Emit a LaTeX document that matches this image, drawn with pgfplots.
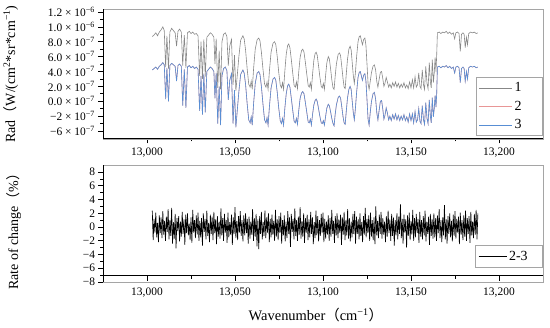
\documentclass[border=0pt]{standalone}
\usepackage{pgfplots}
\pgfplotsset{compat=1.18}
\usepackage{pgfplotstable}
\usepackage{fontspec}
\setmainfont{Liberation Serif}
\newfontfamily\cjk{Noto Sans CJK SC}
\definecolor{gline}{RGB}{135,135,135}
\definecolor{rline}{RGB}{232,150,150}
\definecolor{bline}{RGB}{88,142,212}
\definecolor{frame}{RGB}{165,165,165}
\newcommand{\sci}[2]{#1 × 10\textsuperscript{#2}}

% series 1 (gray), units of 1e-7 on the drawn scale
\pgfplotstableread{
x y
13003 8.7
13004 8.9
13005 9.2
13006 8.8
13007 9.3
13008 9.6
13009 10.0
13009.8 9.5
13010.6 4.6
13011.3 8.8
13012.2 4.4
13013 9.3
13014 9.8
13015 9.5
13016 9.2
13016.8 7.4
13017.6 9.4
13018.5 9.7
13019.5 9.3
13020.3 4.8
13021.2 8.9
13022.1 4.5
13023 9.2
13024 9.4
13025 9.1
13026 9.3
13027 9.0
13028 9.1
13029 8.8
13029.9 3.4
13030.7 8.0
13031.5 3.0
13032.3 8.3
13033.1 3.3
13034 8.6
13035 8.9
13036 9.2
13037 9.0
13038 8.6
13038.6 5.0
13039.3 8.4
13040.2 1.8
13041 6.8
13041.8 1.6
13042.6 8.0
13043.5 9.0
13044.5 9.2
13045.4 8.7
13046.2 4.8
13047 7.4
13048 8.3
13048.9 2.2
13049.7 6.2
13050.5 1.4
13051.3 3.5
13052.2 6.0
13053.2 8.2
13054.5 8.8
13055.2 8.4
13056 6.9
13056.9 4.4
13057.8 2.3
13058.6 1.9
13059.2 2.7
13059.8 1.6
13060.6 4.5
13061.5 7.0
13062.6 8.3
13063.5 8.5
13064.2 8.1
13065 6.6
13065.9 4.3
13066.8 2.3
13067.6 1.9
13068.2 2.6
13068.8 1.6
13069.6 4.2
13070.5 6.6
13071.6 7.8
13072.5 8.0
13073.2 7.6
13074 6.0
13074.8 4.0
13075.7 2.2
13076.4 1.8
13077 2.5
13077.6 1.6
13078.3 4.0
13079.1 6.3
13079.9 7.5
13080.5 7.7
13081.2 7.2
13082 5.6
13082.8 3.8
13083.6 2.1
13084.3 1.9
13084.9 2.6
13085.5 1.7
13086.2 3.9
13087 5.9
13087.8 6.8
13088.5 7.0
13089.2 6.6
13090 5.2
13090.8 3.6
13091.6 2.1
13092.2 1.9
13092.8 2.5
13093.4 1.6
13094.1 3.7
13094.8 5.5
13095.5 6.4
13096.1 6.6
13096.7 6.2
13097.4 4.9
13098.2 3.3
13099 2.0
13099.6 1.8
13100.2 2.4
13100.8 1.6
13101.5 3.5
13102.2 5.2
13103 6.0
13103.6 5.7
13104.3 4.4
13105 2.9
13105.7 1.8
13106.3 1.6
13106.9 3.3
13107.6 5.0
13108.6 6.3
13109.4 6.5
13110 6.1
13110.7 4.6
13111.4 3.0
13112 1.9
13112.6 1.7
13113.2 3.6
13113.9 5.6
13114.7 7.0
13115.4 7.4
13116 6.9
13116.6 5.2
13117.2 3.5
13117.8 2.4
13118.4 3.8
13119.1 6.0
13119.9 8.0
13120.6 8.7
13121.2 8.8
13121.8 8.2
13122.4 7.6
13123.1 8.3
13123.8 8.5
13124.4 7.5
13125 5.0
13125.6 2.4
13126.2 1.6
13126.8 2.6
13127.5 3.8
13128.4 4.7
13129.2 4.9
13129.9 4.2
13130.6 2.6
13131.2 1.9
13131.8 2.8
13132.6 3.9
13133.3 4.0
13134 3.0
13134.6 2.0
13135.2 2.4
13135.9 3.2
13136.6 2.6
13137.3 1.9
13138 2.3
13138.8 1.8
13139.6 2.5
13140.4 2.0
13141.2 2.6
13142 1.9
13142.8 2.4
13143.6 1.8
13144.4 2.3
13145.2 1.9
13146 2.5
13146.8 1.8
13147.6 2.2
13148.4 1.7
13149.2 2.6
13150 1.8
13150.8 2.9
13151.5 1.8
13152.3 3.3
13153 1.9
13153.7 2.2
13154.4 3.8
13155.1 2.0
13155.7 1.7
13156.4 4.2
13157.1 2.2
13157.7 1.6
13158.4 4.7
13159.1 2.4
13159.7 1.7
13160.4 5.2
13161 2.6
13161.5 1.8
13162.1 5.6
13162.7 2.5
13163.2 3.8
13163.7 5.9
13164.2 4.0
13164.6 6.2
13165 9.2
13166 9.3
13167 9.1
13168 9.3
13169 9.2
13170 9.4
13171 9.1
13172 9.3
13173 9.0
13174 9.2
13174.8 8.4
13175.5 9.2
13176.5 9.3
13177.3 9.1
13178 6.7
13178.7 9.0
13179.5 9.2
13180.2 9.0
13180.8 7.2
13181.5 8.6
13182.1 7.6
13182.8 9.1
13183.8 9.3
13185 9.2
13186 9.3
13187 9.1
13188 9.2
}\seriesA

% series 3 (blue); series 2 coincides with it
\pgfplotstableread{
x y
13003 4.2
13004 4.4
13005 4.6
13006 4.3
13007 4.7
13008 4.9
13009 5.2
13009.8 4.9
13010.6 0.3
13011.3 4.5
13012.2 0.0
13013 4.8
13014 5.1
13015 4.9
13016 4.7
13016.8 2.7
13017.6 4.8
13018.5 5.0
13019.5 4.7
13020.3 -0.6
13021.2 4.3
13022.1 -0.9
13023 4.6
13024 4.8
13025 4.5
13026 4.7
13027 4.4
13028 4.6
13029 4.3
13029.9 -1.3
13030.7 3.4
13031.5 -1.8
13032.3 3.7
13033.1 -1.5
13034 4.0
13035 4.3
13036 4.6
13037 4.4
13038 4.0
13038.6 0.4
13039.3 3.8
13040.2 -3.0
13041 2.0
13041.8 -3.2
13042.6 3.4
13043.5 4.4
13044.5 4.6
13045.4 4.1
13046.2 0.2
13047 2.8
13048 3.7
13048.9 -3.0
13049.7 1.5
13050.5 -3.5
13051.3 -1.2
13052.2 1.3
13053.2 3.6
13054.5 4.2
13055.2 3.8
13056 2.3
13056.9 -0.3
13057.8 -2.5
13058.6 -2.9
13059.2 -2.1
13059.8 -3.2
13060.6 -0.2
13061.5 2.4
13062.6 3.8
13063.5 4.0
13064.2 3.6
13065 2.0
13065.9 -0.4
13066.8 -2.5
13067.6 -2.9
13068.2 -2.2
13068.8 -3.2
13069.6 -0.6
13070.5 1.8
13071.6 3.0
13072.5 3.2
13073.2 2.8
13074 1.2
13074.8 -0.8
13075.7 -2.6
13076.4 -3.0
13077 -2.3
13077.6 -3.2
13078.3 -1.0
13079.1 1.0
13079.9 2.1
13080.5 2.3
13081.2 1.9
13082 0.4
13082.8 -1.2
13083.6 -2.7
13084.3 -2.9
13084.9 -2.3
13085.5 -3.1
13086.2 -1.3
13087 0.4
13087.8 1.1
13088.5 1.3
13089.2 1.0
13090 -0.2
13090.8 -1.5
13091.6 -2.8
13092.2 -2.9
13092.8 -2.4
13093.4 -3.2
13094.1 -1.7
13094.8 -0.5
13095.5 0.1
13096.1 0.3
13096.7 0.0
13097.4 -0.9
13098.2 -2.0
13099 -2.9
13099.6 -3.0
13100.2 -2.6
13100.8 -3.2
13101.5 -2.0
13102.2 -0.9
13103 -0.4
13103.6 -0.6
13104.3 -1.4
13105 -2.3
13105.7 -3.0
13106.3 -3.3
13106.9 -1.8
13107.6 -0.5
13108.6 0.5
13109.4 0.7
13110 0.4
13110.7 -0.8
13111.4 -2.1
13112 -2.9
13112.6 -3.1
13113.2 -1.4
13113.9 0.4
13114.7 1.6
13115.4 2.0
13116 1.6
13116.6 0.0
13117.2 -1.5
13117.8 -2.5
13118.4 -1.0
13119.1 1.2
13119.9 3.2
13120.6 3.9
13121.2 4.0
13121.8 3.4
13122.4 2.8
13123.1 3.5
13123.8 3.7
13124.4 2.7
13125 0.2
13125.6 -2.4
13126.2 -3.2
13126.8 -1.6
13127.5 -0.1
13128.4 1.0
13129.2 1.2
13129.9 0.3
13130.6 -1.6
13131.2 -2.5
13131.8 -1.4
13132.6 0.0
13133.3 0.1
13134 -1.1
13134.6 -2.4
13135.2 -1.9
13135.9 -0.9
13136.6 -1.6
13137.3 -2.5
13138 -2.0
13138.8 -2.6
13139.6 -1.8
13140.4 -2.4
13141.2 -1.7
13142 -2.5
13142.8 -1.9
13143.6 -2.6
13144.4 -2.0
13145.2 -2.5
13146 -1.8
13146.8 -2.6
13147.6 -2.1
13148.4 -2.8
13149.2 -1.7
13150 -2.6
13150.8 -1.7
13151.5 -2.9
13152.3 -1.4
13153 -2.8
13153.7 -2.5
13154.4 -1.0
13155.1 -2.7
13155.7 -3.0
13156.4 -0.6
13157.1 -2.5
13157.7 -3.1
13158.4 -0.2
13159.1 -2.3
13159.7 -3.0
13160.4 0.2
13161 -2.0
13161.5 -2.9
13162.1 0.5
13162.7 -2.1
13163.2 -1.0
13163.7 0.8
13164.2 -0.8
13164.6 1.0
13165 4.6
13166 4.7
13167 4.5
13168 4.7
13169 4.6
13170 4.8
13171 4.5
13172 4.7
13173 4.4
13174 4.6
13174.8 3.8
13175.5 4.6
13176.5 4.7
13177.3 4.5
13178 2.5
13178.7 4.4
13179.5 4.6
13180.2 4.4
13180.8 2.7
13181.5 4.0
13182.1 3.0
13182.8 4.5
13183.8 4.7
13185 4.6
13186 4.7
13187 4.5
13188 4.6
}\seriesC

\begin{document}
\begin{tikzpicture}
\useasboundingbox (0bp,0bp) rectangle (550bp,328bp);
% ---------------- top panel ----------------
\begin{axis}[
  at={(103bp,189bp)}, anchor=south west,
  width=440bp, height=130bp, scale only axis,
  xmin=12975, xmax=13225, ymin=-5.07, ymax=12.4,
  scaled x ticks=false,
  axis line style={draw=frame, line width=0.6pt},
  xtick={13000,13050,13100,13150,13200},
  xticklabels={{13,000},{13,050},{13,100},{13,150},{13,200}},
  minor x tick num=1,
  ytick={-4,-2,0,2,4,6,8,10,12},
  yticklabels={{\sci{−6}{−7}},{\sci{−2}{−7}},{\sci{0.0}{−7}},{\sci{2.0}{−7}},{\sci{4.0}{−7}},{\sci{6.0}{−7}},{\sci{8.0}{−7}},{\sci{1.0}{−6}},{\sci{1.2}{−6}}},
  minor y tick num=1,
  xtick pos=left, ytick pos=left,
  tick align=outside,
  major tick length=4.5bp, minor tick length=2.5bp,
  tick style={black, line width=0.7pt},
  ticklabel style={font=\fontsize{11.5}{12}\selectfont},
  xticklabel style={yshift=-1bp},
  ylabel={Rad{\cjk （}W/(cm\textsuperscript{2}*sr*cm\textsuperscript{−1})},
  ylabel style={at={(axis description cs:-0.21,0.5)}, anchor=center, font=\fontsize{14}{14}\selectfont},
  legend style={at={(rel axis cs:1,0.023)}, anchor=south east, draw=frame, line width=0.6pt,
    font=\fontsize{14}{14}\selectfont, row sep=1.5bp, inner xsep=3bp, inner ysep=2bp,
    nodes={inner sep=2bp, text height=10bp, text depth=3bp}},
  legend cell align=left,
  legend image code/.code={\draw[#1, line width=0.8pt] (0bp,0bp) -- (33bp,0bp);},
]
\addplot[gline, line width=0.6pt] table[x=x,y=y]{\seriesA};
\addlegendentry{1\hspace*{16bp}}
\addplot[rline, line width=0.6pt] table[x=x,y=y]{\seriesC};
\addlegendentry{2\hspace*{16bp}}
\addplot[bline, line width=0.6pt] table[x=x,y=y]{\seriesC};
\addlegendentry{3\hspace*{16bp}}
\draw[black, line width=1.1pt] (rel axis cs:0,0) -- (rel axis cs:1,0);
\draw[black, line width=1.1pt] (rel axis cs:0,0) -- (rel axis cs:0,1);
\end{axis}
% ---------------- bottom panel ----------------
\begin{axis}[
  at={(103bp,46bp)}, anchor=south west,
  width=440bp, height=117bp, scale only axis,
  xmin=12975, xmax=13225, ymin=-8, ymax=9.03,
  scaled x ticks=false,
  axis line style={draw=frame, line width=0.6pt},
  xtick={13000,13050,13100,13150,13200},
  xticklabels={{13,000},{13,050},{13,100},{13,150},{13,200}},
  minor x tick num=1,
  ytick={-8,-6,-4,-2,0,2,4,6,8},
  yticklabels={−8,−6,−4,−2,0,2,4,6,8},
  minor y tick num=1,
  xtick pos=left, ytick pos=left,
  tick align=outside,
  major tick length=4.5bp, minor tick length=2.5bp,
  tick style={black, line width=0.7pt},
  x tick style={yshift=6bp},
  ticklabel style={font=\fontsize{11.5}{12}\selectfont},
  xticklabel style={yshift=2bp},
  ylabel={Rate of change{\cjk （}\%{\cjk ）}},
  ylabel style={at={(axis description cs:-0.203,0.46)}, anchor=center, font=\fontsize{14}{14}\selectfont},
  xlabel={Wavenumber{\cjk （}cm\textsuperscript{−1}{\cjk ）}},
  xlabel style={at={(axis description cs:0.484,-0.282)}, anchor=center, font=\fontsize{14.5}{15}\selectfont},
  legend style={at={(rel axis cs:1,0.12)}, anchor=south east, draw=frame, line width=0.6pt,
    font=\fontsize{14}{14}\selectfont, inner xsep=3bp, inner ysep=2.5bp,
    nodes={inner sep=2bp, text height=10bp, text depth=3bp}},
  legend image code/.code={\draw[#1, line width=0.8pt] (0bp,0bp) -- (28bp,0bp);},
]
\addplot[black, line width=0.65pt] coordinates {
(13003,2.4)(13003.5,-1.9)(13004,1.2)(13004.5,-0.8)(13005,2.1)(13005.5,-1.5)(13006,0.6)(13006.5,-2.2)(13007,1.7)(13007.5,-0.9)
(13008,1.4)(13008.5,-1.6)(13009,2.3)(13009.5,-1.1)(13010,0.9)(13010.5,-2.0)(13011,1.5)(13011.5,-0.7)(13012,2.6)(13012.5,-1.8)
(13013,1.0)(13013.5,-1.3)(13014,2.8)(13014.5,-2.4)(13015,0.7)(13015.5,-1.7)(13016,1.9)(13016.5,-3.1)(13017,1.3)(13017.5,-0.6)
(13018,1.6)(13018.5,-2.1)(13019,0.8)(13019.5,-1.4)(13020,2.2)(13020.5,-1.0)(13021,1.1)(13021.5,-2.6)(13022,1.8)(13022.5,-0.9)
(13023,2.0)(13023.5,-1.2)(13024,0.5)(13024.5,-1.9)(13025,1.4)(13025.5,-2.3)(13026,2.5)(13026.5,-0.8)(13027,1.0)(13027.5,-1.6)
(13028,1.7)(13028.5,-1.1)(13029,2.1)(13029.5,-2.0)(13030,0.9)(13030.5,-1.5)(13031,1.3)(13031.5,-2.7)(13032,2.0)(13032.5,-0.7)
(13033,1.2)(13033.5,-1.8)(13034,2.4)(13034.5,-1.3)(13035,0.6)(13035.5,-2.2)(13036,1.8)(13036.5,-1.0)(13037,1.5)(13037.5,-1.9)
(13038,2.2)(13038.5,-0.9)(13039,1.1)(13039.5,-2.5)(13040,1.6)(13040.5,-1.4)(13041,0.8)(13041.5,-1.7)(13042,2.7)(13042.5,-1.2)
(13043,1.3)(13043.5,-2.0)(13044,1.9)(13044.5,-0.8)(13045,1.0)(13045.5,-2.3)(13046,2.1)(13046.5,-1.5)(13047,0.7)(13047.5,-1.1)
(13048,1.8)(13048.5,-2.6)(13049,1.4)(13049.5,-1.0)(13050,2.9)(13050.5,-1.6)(13051,0.9)(13051.5,-1.9)(13052,1.6)(13052.5,-0.8)
(13053,2.3)(13053.5,-1.3)(13054,1.0)(13054.5,-2.1)(13055,1.7)(13055.5,-1.2)(13056,2.0)(13056.5,-0.9)(13057,1.2)(13057.5,-2.4)
(13058,1.5)(13058.5,-1.7)(13059,0.8)(13059.5,-1.1)(13060,2.6)(13060.5,-2.0)(13061,1.3)(13061.5,-1.4)(13062,1.9)(13062.5,-2.8)
(13063,1.1)(13063.5,-3.2)(13064,1.6)(13064.5,-1.0)(13065,2.2)(13065.5,-1.8)(13066,0.7)(13066.5,-1.3)(13067,2.4)(13067.5,-1.6)
(13068,1.4)(13068.5,-0.8)(13069,2.0)(13069.5,-2.2)(13070,1.2)(13070.5,-1.5)(13071,1.8)(13071.5,-1.1)(13072,0.9)(13072.5,-2.0)
(13073,2.5)(13073.5,-1.4)(13074,1.1)(13074.5,-1.9)(13075,1.6)(13075.5,-0.9)(13076,2.1)(13076.5,-2.4)(13077,1.0)(13077.5,-1.2)
(13078,1.7)(13078.5,-2.1)(13079,0.8)(13079.5,-1.6)(13080,2.3)(13080.5,-1.0)(13081,1.4)(13081.5,-2.9)(13082,1.9)(13082.5,-0.7)
(13083,1.2)(13083.5,-1.8)(13084,2.7)(13084.5,-1.3)(13085,1.0)(13085.5,-2.0)(13086,1.5)(13086.5,-1.1)(13087,2.9)(13087.5,-1.7)
(13088,0.9)(13088.5,-1.4)(13089,2.0)(13089.5,-2.3)(13090,1.3)(13090.5,-0.8)(13091,1.8)(13091.5,-1.9)(13092,1.1)(13092.5,-1.5)
(13093,2.2)(13093.5,-1.0)(13094,1.4)(13094.5,-2.5)(13095,0.7)(13095.5,-1.6)(13096,2.4)(13096.5,-1.2)(13097,1.6)(13097.5,-2.1)
(13098,1.0)(13098.5,-1.3)(13099,1.9)(13099.5,-0.9)(13100,2.1)(13100.5,-2.2)(13101,1.2)(13101.5,-1.7)(13102,0.8)(13102.5,-1.1)
(13103,1.7)(13103.5,-2.0)(13104,1.3)(13104.5,-1.4)(13105,2.5)(13105.5,-1.0)(13106,0.9)(13106.5,-2.3)(13107,1.6)(13107.5,-1.2)
(13108,2.0)(13108.5,-1.6)(13109,1.1)(13109.5,-0.8)(13110,1.8)(13110.5,-2.6)(13111,1.4)(13111.5,-1.1)(13112,2.2)(13112.5,-1.9)
(13113,1.0)(13113.5,-1.2)(13114,2.6)(13114.5,-1.7)(13115,1.3)(13115.5,-2.1)(13116,0.8)(13116.5,-1.5)(13117,1.9)(13117.5,-1.0)
(13118,2.3)(13118.5,-2.4)(13119,1.5)(13119.5,-1.0)(13120,1.1)(13120.5,-1.8)(13121,2.0)(13121.5,-1.3)(13122,0.7)(13122.5,-2.2)
(13123,1.6)(13123.5,-1.1)(13124,2.8)(13124.5,-1.5)(13125,1.2)(13125.5,-0.9)(13126,1.7)(13126.5,-2.0)(13127,2.1)(13127.5,-1.4)
(13128,1.0)(13128.5,-1.9)(13129,1.4)(13129.5,-2.5)(13130,3.0)(13130.5,-1.2)(13131,0.9)(13131.5,-1.6)(13132,1.8)(13132.5,-1.0)
(13133,2.2)(13133.5,-1.7)(13134,1.3)(13134.5,-1.1)(13135,0.8)(13135.5,-2.2)(13136,1.6)(13136.5,-1.4)(13137,2.4)(13137.5,-0.9)
(13138,1.1)(13138.5,-2.0)(13139,1.9)(13139.5,-1.3)(13140,1.4)(13140.5,-2.7)(13141,1.0)(13141.5,-1.2)(13142,2.0)(13142.5,-1.8)
(13143,1.5)(13143.5,-1.0)(13144,3.3)(13144.5,-1.6)(13145,1.2)(13145.5,-2.4)(13146,1.8)(13146.5,-0.8)(13147,1.1)(13147.5,-3.0)
(13148,1.7)(13148.5,-1.3)(13149,2.1)(13149.5,-1.9)(13150,0.9)(13150.5,-1.1)(13151,2.5)(13151.5,-2.0)(13152,1.3)(13152.5,-1.5)
(13153,1.9)(13153.5,-0.9)(13154,1.2)(13154.5,-2.3)(13155,2.2)(13155.5,-1.4)(13156,1.0)(13156.5,-1.8)(13157,1.6)(13157.5,-1.2)
(13158,2.4)(13158.5,-2.1)(13159,0.8)(13159.5,-1.0)(13160,1.5)(13160.5,-2.6)(13161,1.9)(13161.5,-1.3)(13162,1.2)(13162.5,-1.7)
(13163,2.0)(13163.5,-1.5)(13164,1.3)(13164.5,-2.0)(13165,1.7)(13165.5,-0.9)(13166,2.6)(13166.5,-1.6)(13167,1.0)(13167.5,-2.2)
(13168,1.4)(13168.5,-1.2)(13169,3.2)(13169.5,-1.8)(13170,1.1)(13170.5,-2.4)(13171,1.6)(13171.5,-1.0)(13172,2.0)(13172.5,-1.5)
(13173,0.9)(13173.5,-2.1)(13174,1.8)(13174.5,-1.3)(13175,2.3)(13175.5,-1.7)(13176,1.2)(13176.5,-0.8)(13177,1.5)(13177.5,-2.5)
(13178,2.1)(13178.5,-1.1)(13179,1.0)(13179.5,-1.9)(13180,1.7)(13180.5,-1.4)(13181,2.4)(13181.5,-2.0)(13182,1.3)(13182.5,-1.0)
(13183,1.6)(13183.5,-2.3)(13184,2.2)(13184.5,-1.2)(13185,0.8)(13185.5,-1.6)(13186,1.9)(13186.5,-1.1)(13187,2.5)(13187.5,-1.8)
(13188,2.0)
};
\addlegendentry{2-3\hspace*{10bp}}
\draw[black, line width=1.1pt] (axis cs:12975,-7.1) -- (axis cs:13225,-7.1);
\draw[black, line width=1.1pt] (rel axis cs:0,0) -- (rel axis cs:0,1);
\end{axis}
\end{tikzpicture}
\end{document}
